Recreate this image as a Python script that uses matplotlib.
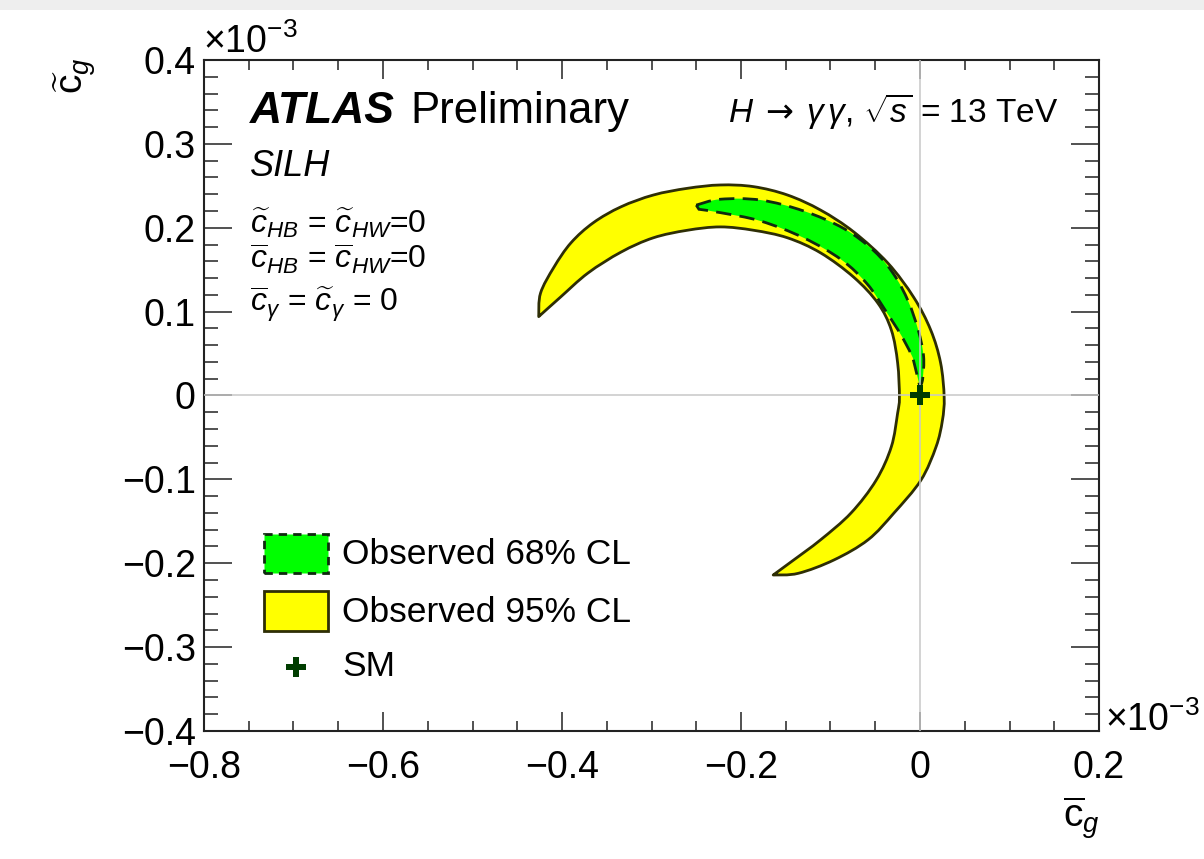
import matplotlib
matplotlib.use("Agg")
import matplotlib.pyplot as plt
from matplotlib.patches import Rectangle, PathPatch
from matplotlib.path import Path
from matplotlib.ticker import MultipleLocator, FixedLocator, FixedFormatter

plt.rcParams['font.family'] = ['Liberation Sans', 'DejaVu Sans']
plt.rcParams['mathtext.fontset'] = 'custom'
plt.rcParams['mathtext.rm'] = 'Liberation Sans'
plt.rcParams['mathtext.it'] = 'Liberation Sans:italic'
plt.rcParams['mathtext.bf'] = 'Liberation Sans:bold'
plt.rcParams['mathtext.sf'] = 'DejaVu Sans'

# 95% CL region (units of 1e-3): outer edge, left tip -> over the top -> lower tip
cl95_outer_x = [-0.426, -0.424, -0.409, -0.390, -0.365, -0.334, -0.298, -0.260, -0.223,
                -0.186, -0.148, -0.111, -0.074, -0.036, -0.007, 0.012, 0.023, 0.027,
                0.025, 0.018, 0.001, -0.029, -0.058, -0.096, -0.136, -0.164]
cl95_outer_y = [0.094, 0.122, 0.153, 0.182, 0.206, 0.225, 0.239, 0.247, 0.251,
                0.249, 0.239, 0.221, 0.195, 0.158, 0.117, 0.078, 0.039, -0.002,
                -0.030, -0.061, -0.101, -0.140, -0.172, -0.196, -0.212, -0.214]
# inner edge, lower tip -> back to the left tip
cl95_inner_x = [-0.141, -0.111, -0.077, -0.049, -0.032, -0.025, -0.023, -0.025, -0.032,
                -0.047, -0.074, -0.111, -0.148, -0.186, -0.223, -0.260, -0.298, -0.334,
                -0.371, -0.402, -0.424]
cl95_inner_y = [-0.196, -0.172, -0.140, -0.101, -0.061, -0.021, -0.002, 0.039, 0.078,
                0.110, 0.141, 0.170, 0.188, 0.197, 0.201, 0.197, 0.188, 0.171,
                0.146, 0.117, 0.096]

# 68% CL region: upper edge from the left tip, lower edge back
cl68_upper_x = [-0.250, -0.223, -0.178, -0.130, -0.085, -0.051, -0.029, -0.013, -0.002,
                0.004, 0.003, 0.000]
cl68_upper_y = [0.227, 0.234, 0.233, 0.220, 0.199, 0.172, 0.144, 0.112, 0.078,
                0.047, 0.020, 0.010]
cl68_lower_x = [-0.008, -0.020, -0.039, -0.059, -0.088, -0.130, -0.178, -0.223, -0.247]
cl68_lower_y = [0.045, 0.070, 0.102, 0.133, 0.162, 0.188, 0.208, 0.218, 0.222]

sm_point = (0.0, 0.0)

x_ticks = [-0.8, -0.6, -0.4, -0.2, 0.0, 0.2]
x_tick_labels = ['\u22120.8', '\u22120.6', '\u22120.4', '\u22120.2', '0', '0.2']
y_ticks = [-0.4, -0.3, -0.2, -0.1, 0.0, 0.1, 0.2, 0.3, 0.4]
y_tick_labels = ['\u22120.4', '\u22120.3', '\u22120.2', '\u22120.1', '0', '0.1', '0.2', '0.3', '0.4']
legend_labels = ['Observed 68% CL', 'Observed 95% CL', 'SM']

YELLOW = '#ffff00'
GREEN = '#00ff00'
EDGE = '#2e2e05'
DASH_EDGE = '#0f2a0f'
SM_COLOR = '#003d00'


def spline_segments(xs, ys):
    """Cubic Bezier pieces (Catmull-Rom) passing through the given points."""
    pts = list(zip(xs, ys))
    n = len(pts)
    verts, codes = [], []
    for i in range(n - 1):
        p0 = pts[i - 1] if i > 0 else pts[i]
        p1, p2 = pts[i], pts[i + 1]
        p3 = pts[i + 2] if i + 2 < n else pts[i + 1]
        c1 = (p1[0] + (p2[0] - p0[0]) / 6, p1[1] + (p2[1] - p0[1]) / 6)
        c2 = (p2[0] - (p3[0] - p1[0]) / 6, p2[1] - (p3[1] - p1[1]) / 6)
        verts += [c1, c2, p2]
        codes += [Path.CURVE4] * 3
    return verts, codes


def band_path(ax_, ay_, bx_, by_):
    """Closed region bounded by edge a and edge b (b runs back towards a's start)."""
    verts = [(ax_[0], ay_[0])]
    codes = [Path.MOVETO]
    v, c = spline_segments(ax_, ay_)
    verts += v
    codes += c
    verts.append((bx_[0], by_[0]))
    codes.append(Path.LINETO)
    v, c = spline_segments(bx_, by_)
    verts += v
    codes += c
    verts.append((ax_[0], ay_[0]))
    codes.append(Path.CLOSEPOLY)
    return Path(verts, codes)


W, H = 1204, 859
fig = plt.figure(figsize=(W / 100, H / 100), dpi=100)
fig.patch.set_facecolor('white')
# light grey strip along the top edge
fig.add_artist(Rectangle((0, 1 - 10 / H), 1, 10 / H, transform=fig.transFigure,
                         facecolor='#eeeeee', edgecolor='none', zorder=0))

ax_l, ax_r, ax_t, ax_b = 204, 1099, 60, 731
ax = fig.add_axes([ax_l / W, 1 - ax_b / H, (ax_r - ax_l) / W, (ax_b - ax_t) / H])
ax.set_xlim(-0.8, 0.2)
ax.set_ylim(-0.4, 0.4)

# contours
ax.add_patch(PathPatch(band_path(cl95_outer_x, cl95_outer_y, cl95_inner_x, cl95_inner_y),
                       facecolor=YELLOW, edgecolor=EDGE, linewidth=2.0,
                       joinstyle='round', zorder=2))
ax.add_patch(PathPatch(band_path(cl68_upper_x, cl68_upper_y, cl68_lower_x, cl68_lower_y),
                       facecolor=GREEN, edgecolor=DASH_EDGE, linewidth=2.0,
                       linestyle=(0, (5.5, 3)), zorder=3))

# reference lines through the origin
ax.axvline(0, color='#c8c8c8', lw=1.1, zorder=4)
ax.axhline(0, color='#c8c8c8', lw=1.1, zorder=4)

ax.plot([sm_point[0]], [sm_point[1]], marker='P', ms=14, color=SM_COLOR,
        markeredgewidth=0, linestyle='none', zorder=5)

# axes styling
for sp in ax.spines.values():
    sp.set_linewidth(1.5)
    sp.set_color('#222222')
ax.xaxis.set_major_locator(FixedLocator(x_ticks))
ax.xaxis.set_major_formatter(FixedFormatter(x_tick_labels))
ax.xaxis.set_minor_locator(MultipleLocator(0.05))
ax.yaxis.set_major_locator(FixedLocator(y_ticks))
ax.yaxis.set_major_formatter(FixedFormatter(y_tick_labels))
ax.yaxis.set_minor_locator(MultipleLocator(0.02))
ax.tick_params(axis='both', which='both', direction='in', top=True, right=True,
               color='#222222', width=1.1)
ax.tick_params(axis='x', which='major', length=14, pad=14, labelsize=27)
ax.tick_params(axis='x', which='minor', length=7)
ax.tick_params(axis='y', which='major', length=20, pad=6, labelsize=27)
ax.tick_params(axis='y', which='minor', length=10)

# exponent labels
fig.text(203 / W, 1 - 53 / H, r'$\times10^{-3}$', fontsize=27, ha='left', va='baseline')
fig.text(1105 / W, 1 - 731 / H, r'$\times10^{-3}$', fontsize=27, ha='left', va='baseline')

# axis titles
fig.text(75 / W, 1 - 57 / H, r'$\widetilde{\mathrm{c}}_{g}$', fontsize=28, rotation=90,
         ha='center', va='top')
fig.text(1100 / W, 1 - 795 / H, r'$\overline{\mathrm{c}}_{g}$', fontsize=28,
         ha='right', va='top')


def axpos(px, py):
    return (px - ax_l) / (ax_r - ax_l), (ax_b - py) / (ax_b - ax_t)


x0, y0 = axpos(250, 123)
ax.text(x0, y0, 'ATLAS', transform=ax.transAxes, fontsize=32, fontweight='bold',
        fontstyle='italic', ha='left', va='baseline')
x1, _ = axpos(410, 123)
ax.text(x1, y0, 'Preliminary', transform=ax.transAxes, fontsize=31.5,
        ha='left', va='baseline')
x2, y2 = axpos(728, 122)
ax.text(x2, y2, r'$H\;\mathsf{\rightarrow}\;\gamma\,\gamma$, $\sqrt{s}$ = 13 TeV',
        transform=ax.transAxes, fontsize=24, ha='left', va='baseline')
x3, y3 = axpos(250, 176)
ax.text(x3, y3, 'SILH', transform=ax.transAxes, fontsize=26, fontstyle='italic',
        ha='left', va='baseline')
eq_lines = [r'$\widetilde{c}_{HB}$ = $\widetilde{c}_{HW}$=0',
            r'$\overline{c}_{HB}$ = $\overline{c}_{HW}$=0',
            r'$\overline{c}_{\gamma}$ = $\widetilde{c}_{\gamma}$ = 0']
for line, py in zip(eq_lines, [233, 269, 312]):
    xe, ye = axpos(250, py)
    ax.text(xe, ye, line, transform=ax.transAxes, fontsize=23, ha='left', va='baseline')

# legend
bx0, by0 = axpos(264, 573)
bx1, by1 = axpos(328, 534)
ax.add_patch(Rectangle((bx0, by0), bx1 - bx0, by1 - by0, transform=ax.transAxes,
                       facecolor=GREEN, edgecolor=DASH_EDGE, linewidth=2.0,
                       linestyle=(0, (3, 2.2)), zorder=6, clip_on=False))
bx0, by0 = axpos(264, 631)
bx1, by1 = axpos(328, 591)
ax.add_patch(Rectangle((bx0, by0), bx1 - bx0, by1 - by0, transform=ax.transAxes,
                       facecolor=YELLOW, edgecolor=EDGE, linewidth=2.0,
                       zorder=6, clip_on=False))
mx, my = axpos(296, 667)
ax.plot([mx], [my], transform=ax.transAxes, marker='P', ms=14, color=SM_COLOR,
        markeredgewidth=0, linestyle='none', zorder=6, clip_on=False)
for lab, py in zip(legend_labels, [555, 612, 667]):
    lx, ly = axpos(342, py)
    ax.text(lx, ly, lab, transform=ax.transAxes, fontsize=25.5, ha='left', va='center')

fig.savefig('out.png', dpi=100)
